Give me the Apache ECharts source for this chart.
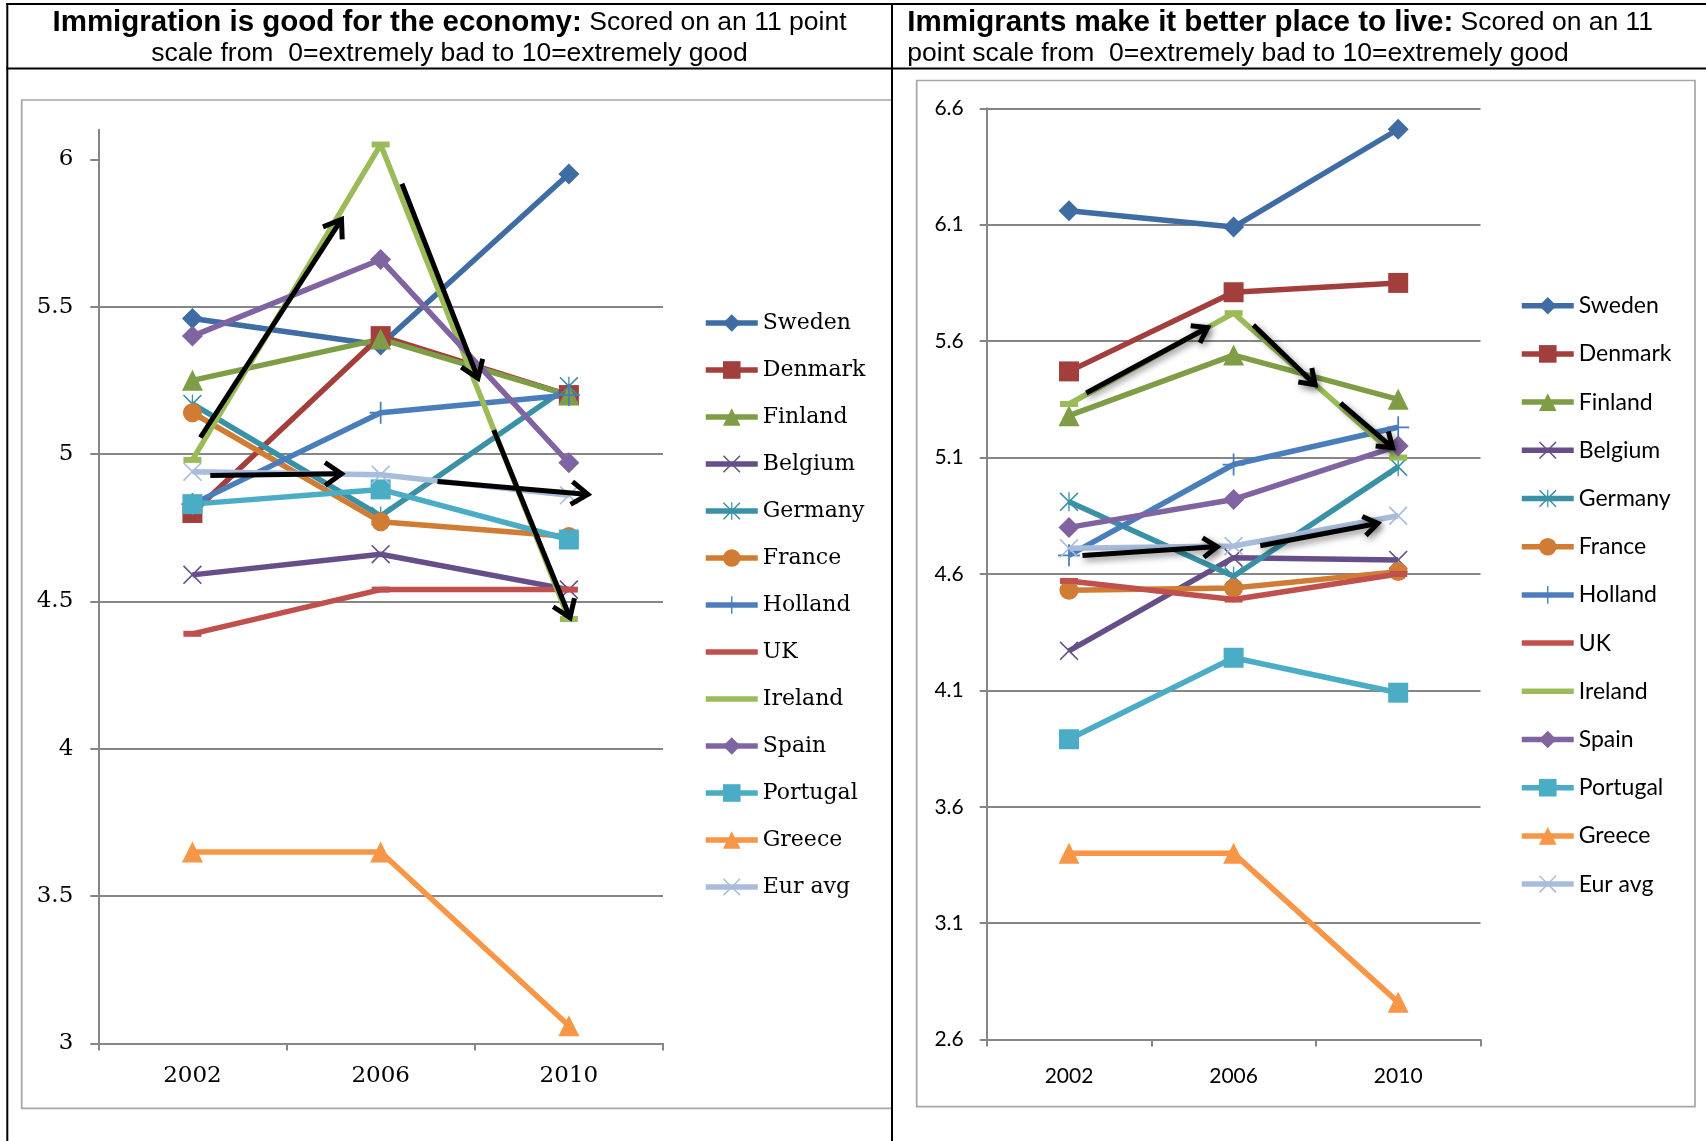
<!DOCTYPE html>
<html><head><meta charset="utf-8">
<script src="https://cdn.jsdelivr.net/npm/echarts@6/dist/echarts.min.js"></script>
<style>html,body{margin:0;padding:0;background:#fff}#c{width:1706px;height:1141px}</style>
</head><body><div id="c"></div>
<script>
// ---------- data ----------
const years = ['2002', '2006', '2010'];
const countries = ['Sweden','Denmark','Finland','Belgium','Germany','France','Holland','UK','Ireland','Spain','Portugal','Greece','Eur avg'];
const leftYTicks = [3, 3.5, 4, 4.5, 5, 5.5, 6];
const rightYTicks = [2.6, 3.1, 3.6, 4.1, 4.6, 5.1, 5.6, 6.1, 6.6];

// Immigration is good for the economy
const econSweden   = [5.46, 5.37, 5.95];
const econDenmark  = [4.80, 5.40, 5.20];
const econFinland  = [5.25, 5.39, 5.20];
const econBelgium  = [4.59, 4.66, 4.54];
const econGermany  = [5.17, 4.79, 5.23];
const econFrance   = [5.14, 4.77, 4.72];
const econHolland  = [4.83, 5.14, 5.20];
const econUK       = [4.39, 4.54, 4.54];
const econIreland  = [4.98, 6.05, 4.44];
const econSpain    = [5.40, 5.66, 4.97];
const econPortugal = [4.83, 4.88, 4.71];
const econGreece   = [3.65, 3.65, 3.06];
const econEurAvg   = [4.94, 4.93, 4.86];

// Immigrants make it better place to live
const liveSweden   = [6.16, 6.09, 6.51];
const liveDenmark  = [5.47, 5.81, 5.85];
const liveFinland  = [5.28, 5.54, 5.35];
const liveBelgium  = [4.27, 4.67, 4.66];
const liveGermany  = [4.91, 4.59, 5.06];
const liveFrance   = [4.53, 4.54, 4.61];
const liveHolland  = [4.68, 5.07, 5.23];
const liveUK       = [4.57, 4.49, 4.60];
const liveIreland  = [5.33, 5.72, 5.10];
const liveSpain    = [4.80, 4.92, 5.15];
const livePortugal = [3.89, 4.24, 4.09];
const liveGreece   = [3.40, 3.40, 2.76];
const liveEurAvg   = [4.71, 4.72, 4.85];

// annotation arrows [fromCategoryIndex, fromValue, toCategoryIndex, toValue]
const leftArrows = [[0.042,5.056,0.792,5.796],[1.113,5.917,1.517,5.257],[1.601,5.081,2.006,4.445],[0.095,4.927,0.792,4.933],[1.302,4.907,2.101,4.863]];
const rightArrows = [[0.105,5.377,0.842,5.658],[1.12,5.669,1.495,5.413],[1.65,5.334,1.966,5.142],[0.082,4.679,0.9,4.717],[1.162,4.721,1.876,4.817]];

// ---------- styles ----------
const econData = [econSweden,econDenmark,econFinland,econBelgium,econGermany,econFrance,econHolland,econUK,econIreland,econSpain,econPortugal,econGreece,econEurAvg];
const liveData = [liveSweden,liveDenmark,liveFinland,liveBelgium,liveGermany,liveFrance,liveHolland,liveUK,liveIreland,liveSpain,livePortugal,liveGreece,liveEurAvg];
const colors = ['#3E6CA3','#A23F3C','#7E9D46','#664F88','#3A91A6','#D17C34','#4A7EBB','#C0504D','#9BBB59','#8064A2','#4BACC6','#F79646','#A8BCDB'];
const X_PATH = 'path://M0,1.2L1.2,0L10,8.8L18.8,0L20,1.2L11.2,10L20,18.8L18.8,20L10,11.2L1.2,20L0,18.8L8.8,10Z';
const AST_PATH = 'path://M0,1.2L1.2,0L10,8.8L18.8,0L20,1.2L11.2,10L20,18.8L18.8,20L10,11.2L1.2,20L0,18.8L8.8,10Z M9.3,0H10.7V20H9.3Z';
const PLUS_PATH = 'path://M9.2,0H10.8V20H9.2Z M0,9.2H20V10.8H0Z';
const symbols = ['diamond','rect','triangle',X_PATH,AST_PATH,'circle',PLUS_PATH,'rect','rect','diamond','rect','triangle',X_PATH];
const sizes = [21,20,21,19,19,19,22,[18,6],[18,6],21,20,21,19];
const BAR_ICON = 'path://M0,0H52V5.5H0Z';
const LINE_W = 5.5;

const gridColor = '#868686';
const serif = 'DejaVu Serif';
const sans = 'Lato';

function makeSeries(dataSets, axisIdx) {
  return countries.map((n, i) => ({
    name: n, type: 'line', xAxisIndex: axisIdx, yAxisIndex: axisIdx,
    data: dataSets[i], symbol: symbols[i], symbolSize: sizes[i], showSymbol: true,
    symbolKeepAspect: false,
    lineStyle: { width: LINE_W, color: colors[i] },
    itemStyle: { color: colors[i] },
    emphasis: { disabled: true }, silent: true
  }));
}

function legendData() {
  return countries.map(n => (n === 'UK' || n === 'Ireland') ? { name: n, icon: BAR_ICON } : { name: n });
}

const chart = echarts.init(document.getElementById('c'), null, { renderer: 'canvas' });
const option = {
  animation: false,
  backgroundColor: '#fff',
  grid: [
    { left: 98.3, top: 129.8, width: 564.7, height: 913.7, outerBoundsMode: 'none', containLabel: false },
    { left: 986.7, top: 108.3, width: 493.8, height: 931.3, outerBoundsMode: 'none', containLabel: false }
  ],
  xAxis: [
    { type: 'category', gridIndex: 0, data: years, boundaryGap: true,
      axisLine: { lineStyle: { color: gridColor, width: 2 } },
      axisTick: { show: true, length: 7, alignWithLabel: false, interval: 0, lineStyle: { color: gridColor, width: 2 } },
      axisLabel: { margin: 21, color: '#000', fontFamily: serif, fontSize: 23, interval: 0 },
      splitLine: { show: false } },
    { type: 'category', gridIndex: 1, data: years, boundaryGap: true,
      axisLine: { lineStyle: { color: gridColor, width: 2 } },
      axisTick: { show: true, length: 7, alignWithLabel: false, interval: 0, lineStyle: { color: gridColor, width: 2 } },
      axisLabel: { margin: 26, color: '#000', fontFamily: sans, fontSize: 21, interval: 0 },
      splitLine: { show: false } }
  ],
  yAxis: [
    { type: 'value', gridIndex: 0, min: 3, max: 6.1, interval: 0.5,
      axisLine: { show: true, lineStyle: { color: gridColor, width: 2 } },
      axisTick: { show: true, length: 8, customValues: leftYTicks, lineStyle: { color: gridColor, width: 2 } },
      axisLabel: { customValues: leftYTicks, margin: 25, color: '#000', fontFamily: serif, fontSize: 23 },
      splitLine: { show: true, showMaxLine: false, showMinLine: false, lineStyle: { color: gridColor, width: 2 } } },
    { type: 'value', gridIndex: 1, min: 2.6, max: 6.6, interval: 0.5,
      axisLine: { show: true, lineStyle: { color: gridColor, width: 2 } },
      axisTick: { show: true, length: 7, customValues: rightYTicks, lineStyle: { color: gridColor, width: 2 } },
      axisLabel: { customValues: rightYTicks, margin: 23, color: '#000', fontFamily: sans, fontSize: 21,
        formatter: v => Number(v).toFixed(1) },
      splitLine: { show: true, showMinLine: false, lineStyle: { color: gridColor, width: 2 } } }
  ],
  legend: [
    { orient: 'vertical', left: 703, top: 311, padding: 0, itemGap: 23, itemWidth: 52, itemHeight: 22,
      selectedMode: false, data: legendData(), lineStyle: { width: LINE_W },
      textStyle: { fontFamily: serif, fontSize: 22, color: '#000', lineHeight: 24 } },
    { orient: 'vertical', left: 1519, top: 293.7, padding: 0, itemGap: 24.2, itemWidth: 52, itemHeight: 22,
      selectedMode: false, data: legendData(), lineStyle: { width: LINE_W },
      textStyle: { fontFamily: sans, fontSize: 23, color: '#000', lineHeight: 24 } }
  ],
  series: makeSeries(econData, 0).concat(makeSeries(liveData, 1))
};
chart.setOption(option);

// ---------- frame, titles, arrows ----------
function toPx(g, idx, v) {
  const a = chart.convertToPixel({ xAxisIndex: g, yAxisIndex: g }, [0, v]);
  const b = chart.convertToPixel({ xAxisIndex: g, yAxisIndex: g }, [1, v]);
  return [a[0] + idx * (b[0] - a[0]), a[1]];
}
function arrowEls(g, list, headLen, shadow) {
  const els = [];
  list.forEach((ar, k) => {
    const p0 = toPx(g, ar[0], ar[1]);
    const p1 = toPx(g, ar[2], ar[3]);
    const dx = p1[0] - p0[0], dy = p1[1] - p0[1];
    const L = Math.sqrt(dx * dx + dy * dy);
    const ux = dx / L, uy = dy / L;
    const ang = 35 * Math.PI / 180;
    const c = Math.cos(ang), s = Math.sin(ang);
    const h1 = [p1[0] - headLen * (ux * c - uy * s), p1[1] - headLen * (uy * c + ux * s)];
    const h2 = [p1[0] - headLen * (ux * c + uy * s), p1[1] - headLen * (uy * c - ux * s)];
    const st = { stroke: '#000', lineWidth: 5, fill: null, lineJoin: 'miter', lineCap: 'butt' };
    if (shadow) Object.assign(st, { shadowBlur: 7, shadowOffsetX: 2, shadowOffsetY: 3, shadowColor: 'rgba(0,0,0,0.5)' });
    const tipIn = [p1[0] - ux * 2, p1[1] - uy * 2];
    els.push({ type: 'polyline', id: 'ars' + g + k, z: 100, silent: true, shape: { points: [p0, tipIn] }, style: Object.assign({}, st) });
    els.push({ type: 'polyline', id: 'arh' + g + k, z: 100, silent: true, shape: { points: [h1, p1, h2] }, style: Object.assign({}, st) });
  });
  return els;
}
const titleFont = 'Liberation Sans, Arial, sans-serif';
const rich = {
  b: { fontFamily: titleFont, fontWeight: 'bold', fontSize: 29.5, fill: '#000' },
  r: { fontFamily: titleFont, fontSize: 26.5, fill: '#000' }
};
function textEl(id, x, y, txt, align) {
  return { type: 'text', id: id, x: x, y: y, z: 50, silent: true,
    style: { text: txt, rich: rich, align: align, verticalAlign: 'middle', fontFamily: titleFont, fontSize: 26.5, fill: '#000' } };
}
function lineEl(id, x1, y1, x2, y2, color, w, z) {
  return { type: 'line', id: id, z: z, silent: true, shape: { x1: x1, y1: y1, x2: x2, y2: y2 }, style: { stroke: color, lineWidth: w } };
}
const frame = [
  { type: 'rect', id: 'boxL', z: 1, silent: true, shape: { x: 21.7, y: 100, width: 870.3, height: 1008.3 }, style: { fill: null, stroke: '#a6a6a6', lineWidth: 1.7 } },
  { type: 'rect', id: 'boxR', z: 1, silent: true, shape: { x: 916.7, y: 80.5, width: 778.3, height: 1026.2 }, style: { fill: null, stroke: '#a6a6a6', lineWidth: 1.7 } },
  lineEl('bTop', 6.3, 4, 1706, 4, '#000', 2, 60),
  lineEl('bLeft', 7.3, 3, 7.3, 1141, '#000', 2, 60),
  lineEl('bMid', 892, 3, 892, 1141, '#000', 2, 60),
  lineEl('bTitle', 6.3, 68.5, 1706, 68.5, '#000', 2, 60),
  textEl('tL1', 449.5, 22.5, '{b|Immigration is good for the economy:}{r| Scored on an 11 point}', 'center'),
  textEl('tL2', 449.5, 54, '{r|scale from  0=extremely bad to 10=extremely good}', 'center'),
  textEl('tR1', 907.3, 22.5, '{b|Immigrants make it better place to live:}{r| Scored on an 11}', 'left'),
  textEl('tR2', 907.3, 54, '{r|point scale from  0=extremely bad to 10=extremely good}', 'left')
];
chart.setOption({ graphic: frame.concat(arrowEls(0, leftArrows, 20, false), arrowEls(1, rightArrows, 17, true)) });
</script>
</body></html>
